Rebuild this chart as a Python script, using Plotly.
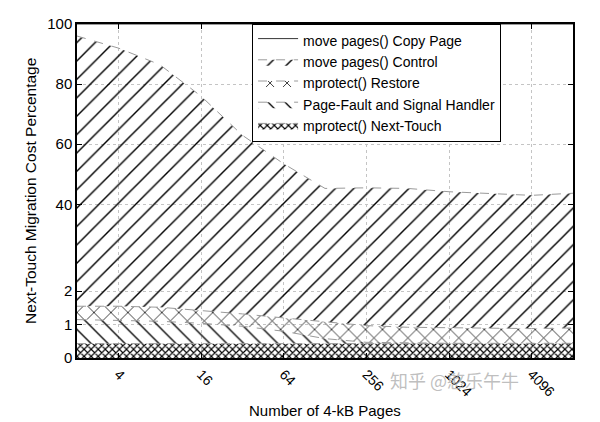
import numpy as np
import plotly.graph_objects as go

# ---- data ----
pages = [2, 4, 8, 16, 32, 64, 128, 256, 512, 1024, 2048, 4096, 8192]
next_touch = [0.43] * 13
page_fault = [0.72, 0.70, 0.67, 0.61, 0.52, 0.37, 0.15, 0.04, 0.02, 0.01, 0.01, 0.01, 0.01]
restore = [0.40, 0.42, 0.42, 0.39, 0.37, 0.40, 0.50, 0.50, 0.47, 0.46, 0.46, 0.44, 0.46]
control = [94.45, 90.45, 84.98, 74.57, 61.68, 52.30, 44.22, 44.53, 44.38, 43.30, 42.70, 42.12, 42.80]
names = ["mprotect() Next-Touch", "Page-Fault and Signal Handler", "mprotect() Restore",
         "move pages() Control", "move pages() Copy Page"]
x_ticks = [4, 16, 64, 256, 1024, 4096]
y_ticks = [0, 1, 2, 40, 60, 80, 100]


def f(v):
    """broken y scale of the original figure"""
    v = np.asarray(v, dtype=float)
    return np.where(v <= 2, v,
                    np.where(v <= 40, 2 + (v - 2) * 2.6 / 38, 4.6 + (v - 40) * 0.09))


cum1 = np.array(next_touch)
cum2 = cum1 + np.array(page_fault)
cum3 = cum2 + np.array(restore)
cum4 = cum3 + np.array(control)
cum5 = np.full(len(pages), 100.0)

layers = [cum1, cum2, cum3, cum4, cum5]
patterns = [dict(shape="x", size=5, solidity=0.4),
            dict(shape="\\", size=12, solidity=0.11),
            dict(shape="x", size=12, solidity=0.12),
            dict(shape="/", size=13, solidity=0.11),
            None]

fig = go.Figure()
for i, (cum, nm, pat) in enumerate(zip(layers, names, patterns)):
    kw = dict(
        x=pages, y=f(cum), name=nm, mode="lines",
        fill="tozeroy" if i == 0 else "tonexty",
        line=dict(color="#9a9a9a", width=1, dash="dash"),
        hoverinfo="skip",
    )
    if pat is not None:
        kw["fillcolor"] = "rgba(0,0,0,0)"
        kw["fillpattern"] = dict(fgcolor="black", bgcolor="rgba(0,0,0,0)", fillmode="replace", **pat)
    else:
        kw["fillcolor"] = "rgba(255,255,255,0)"
        kw["line"] = dict(color="black", width=0.8)
    fig.add_trace(go.Scatter(**kw))

# the page body adds an 8px offset, so the figure is 8px smaller on each side
fig.update_layout(
    width=592, height=414,
    margin=dict(l=69, r=27, t=16, b=64, autoexpand=False),
    plot_bgcolor="white", paper_bgcolor="white",
    font=dict(family="Liberation Sans, Arial, sans-serif", size=14, color="black"),
    showlegend=True,
    legend=dict(x=0.353, y=1.0, xanchor="left", yanchor="top",
                bordercolor="black", borderwidth=1, bgcolor="white",
                traceorder="reversed", font=dict(size=14), itemwidth=40,
                tracegroupgap=0),
)
fig.update_xaxes(
    type="log", range=[np.log10(2), np.log10(8192)],
    tickvals=x_ticks, ticktext=[str(v) for v in x_ticks],
    tickangle=45, tickfont=dict(size=14),
    ticks="inside", ticklen=5, tickcolor="black",
    showline=True, linecolor="black", linewidth=1.5, mirror="allticks",
    showgrid=True, gridcolor="#c4c4c4", griddash="dot", gridwidth=1,
    ticklabelstandoff=1, automargin=False,
    zeroline=False,
)
fig.update_yaxes(
    range=[0, 10],
    tickvals=list(f(y_ticks)), ticktext=[str(v) for v in y_ticks],
    tickfont=dict(size=15),
    ticks="inside", ticklen=5, tickcolor="black",
    showline=True, linecolor="black", linewidth=1.5, mirror="allticks",
    showgrid=True, gridcolor="#c4c4c4", griddash="dot", gridwidth=1,
    automargin=False,
    zeroline=False,
)
# axis titles
fig.add_annotation(text="Number of 4-kB Pages", xref="paper", yref="paper",
                   x=0.5, y=-0.156, yanchor="middle", showarrow=False,
                   font=dict(size=15))
fig.add_annotation(text="Next-Touch Migration Cost Percentage", xref="paper", yref="paper",
                   x=-0.095, y=0.5, xanchor="center", yanchor="middle", textangle=-90,
                   showarrow=False, font=dict(size=15.5))
fig.add_annotation(text="知乎 @憨乐午牛", xref="paper", yref="paper",
                   x=0.895, y=-0.11, showarrow=False,
                   font=dict(family="Noto Sans CJK SC", size=18, color="rgba(170,170,170,0.75)"))

fig.write_html("out.html")
